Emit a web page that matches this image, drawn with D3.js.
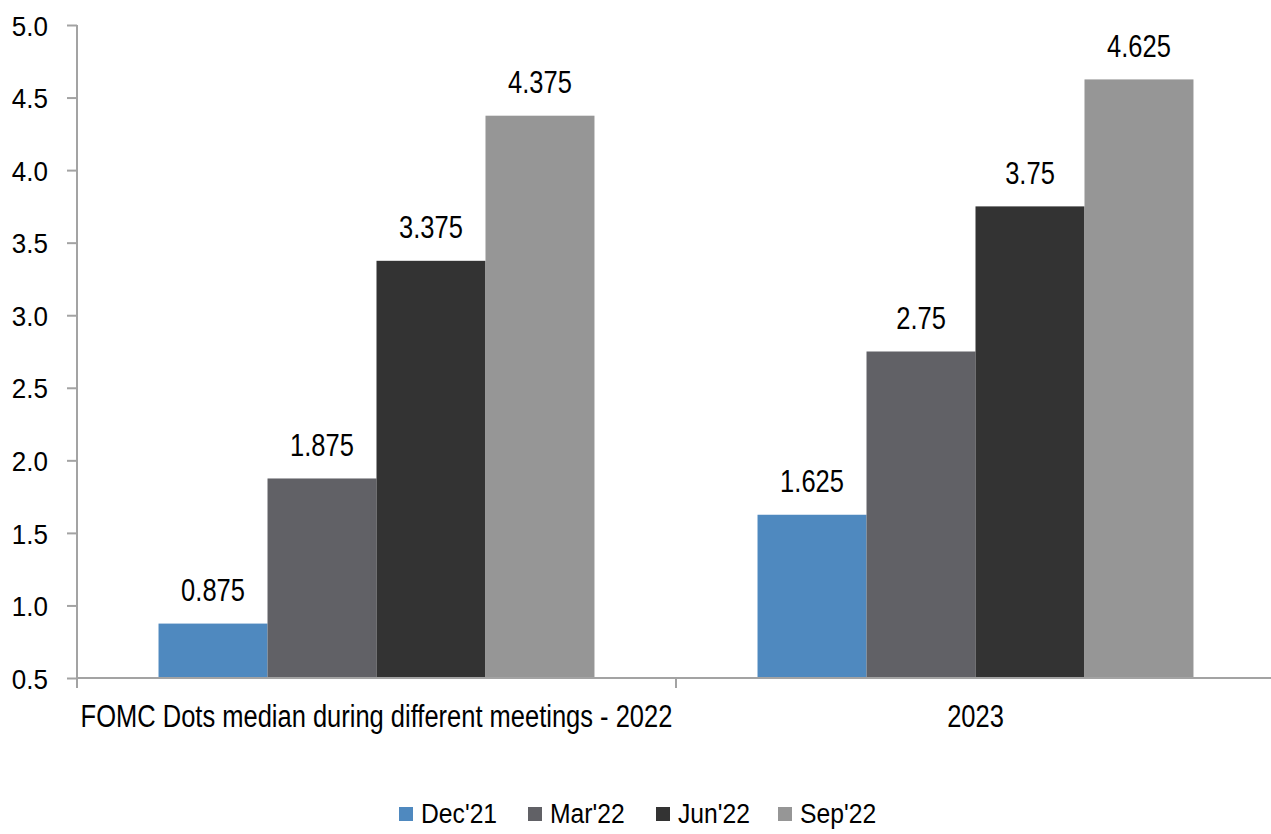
<!DOCTYPE html>
<html>
<head>
<meta charset="utf-8">
<script src="https://cdn.jsdelivr.net/npm/d3@7"></script>
<style>
  html, body { margin: 0; padding: 0; background: #fff; }
  svg { display: block; }
  text { font-family: "Liberation Sans", Arial, sans-serif; fill: #000; }
</style>
</head>
<body>
<svg id="chart" width="1271" height="834"></svg>
<script>
const categories = ["FOMC Dots median during different meetings - 2022", "2023"];
const series = ["Dec'21", "Mar'22", "Jun'22", "Sep'22"];
const seriesColors = ["#4F89BF", "#616166", "#333333", "#969696"];
const valuesDec21 = [0.875, 1.625];
const valuesMar22 = [1.875, 2.75];
const valuesJun22 = [3.375, 3.75];
const valuesSep22 = [4.375, 4.625];
const yTicks = [0.5, 1.0, 1.5, 2.0, 2.5, 3.0, 3.5, 4.0, 4.5, 5.0];
const labelText = {
  "Dec'21": ["0.875", "1.625"],
  "Mar'22": ["1.875", "2.75"],
  "Jun'22": ["3.375", "3.75"],
  "Sep'22": ["4.375", "4.625"]
};
const seriesValues = [valuesDec21, valuesMar22, valuesJun22, valuesSep22];

const svg = d3.select("#chart");
const axisColor = "#A3A3A3";
const plotL = 77, plotR = 1275, plotT = 25, plotB = 678;

const y = d3.scaleLinear().domain([0.5, 5.0]).range([plotB, plotT]);
const x0 = d3.scaleBand().domain(categories).range([plotL, plotR]).padding(0);
const x1 = d3.scaleBand().domain(series).range([0, x0.bandwidth()]).paddingInner(0).paddingOuter(0.748);
const color = d3.scaleOrdinal().domain(series).range(seriesColors);

const rows = [];
series.forEach((s, si) => {
  categories.forEach((c, ci) => {
    rows.push({ s, c, v: seriesValues[si][ci], label: labelText[s][ci] });
  });
});

// bars
svg.append("g").selectAll("rect").data(rows).join("rect")
  .attr("x", d => x0(d.c) + x1(d.s))
  .attr("y", d => y(d.v))
  .attr("width", x1.bandwidth())
  .attr("height", d => y(0.5) - y(d.v))
  .attr("fill", d => color(d.s));

// data labels
svg.append("g").selectAll("text").data(rows).join("text")
  .attr("transform", d => `translate(${x0(d.c) + x1(d.s) + x1.bandwidth() / 2},${y(d.v) - 22.5}) scale(1,1.22)`)
  .attr("text-anchor", "middle")
  .style("font-size", "25.5px")
  .text(d => d.label);

// y axis
const yAxis = d3.axisLeft(y).tickValues(yTicks).tickFormat(d3.format(".1f")).tickSize(10).tickPadding(0);
const gy = svg.append("g").attr("transform", `translate(${plotL},0)`).call(yAxis);
gy.select(".domain").remove();
gy.selectAll(".tick line").attr("stroke", axisColor).attr("stroke-width", 2);
gy.selectAll(".tick text").remove();
gy.selectAll(".tick").append("text")
  .attr("transform", "translate(-29,0) scale(1,1.08)")
  .attr("text-anchor", "end")
  .attr("dy", "0.36em")
  .style("font-size", "26px")
  .text(d => d3.format(".1f")(d));
svg.append("line")
  .attr("x1", plotL).attr("x2", plotL)
  .attr("y1", plotT).attr("y2", plotB + 10)
  .attr("stroke", axisColor).attr("stroke-width", 2);

// x axis
svg.append("line")
  .attr("x1", plotL).attr("x2", plotR)
  .attr("y1", plotB).attr("y2", plotB)
  .attr("stroke", axisColor).attr("stroke-width", 2);
svg.append("g").selectAll("line").data(categories.slice(1)).join("line")
  .attr("x1", d => x0(d)).attr("x2", d => x0(d))
  .attr("y1", plotB).attr("y2", plotB + 10)
  .attr("stroke", axisColor).attr("stroke-width", 2);
svg.append("g").selectAll("text").data(categories).join("text")
  .attr("transform", d => `translate(${x0(d) + x0.bandwidth() / 2},727) scale(1,1.2)`)
  .attr("text-anchor", "middle")
  .style("font-size", "25.5px")
  .text(d => d);

// legend
const legendX = [399, 528, 656, 778];
const lg = svg.append("g").selectAll("g").data(series).join("g")
  .attr("transform", (d, i) => `translate(${legendX[i]},0)`);
lg.append("rect").attr("x", 0).attr("y", 807).attr("width", 14).attr("height", 14)
  .attr("fill", d => color(d));
lg.append("text")
  .attr("transform", "translate(22,823) scale(1,1.15)")
  .style("font-size", "24.7px")
  .text(d => d);
</script>
</body>
</html>
